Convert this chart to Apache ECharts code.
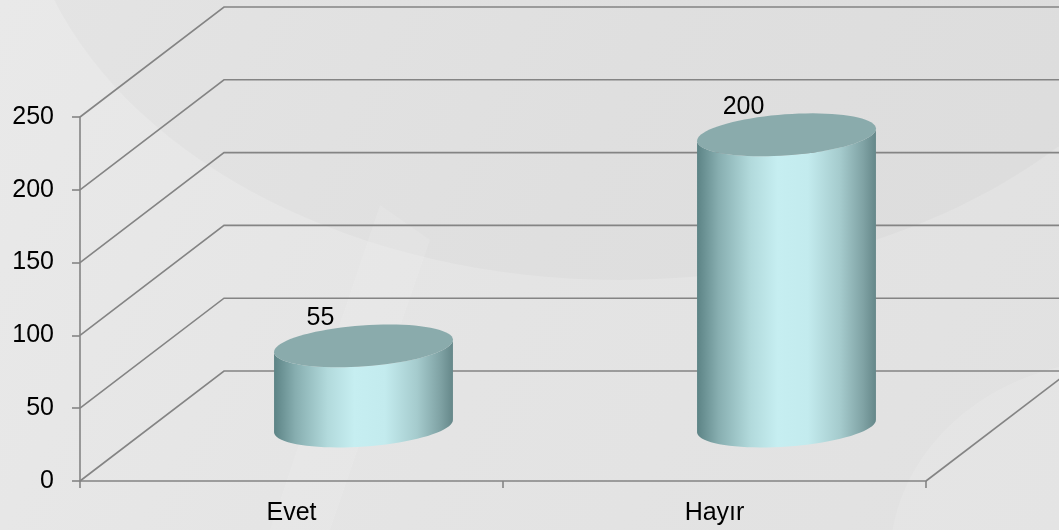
<!DOCTYPE html>
<html>
<head>
<meta charset="utf-8">
<script src="https://cdn.jsdelivr.net/npm/echarts@6/dist/echarts.min.js"></script>
<style>
  html, body { margin: 0; padding: 0; }
  #chart { width: 1059px; height: 530px; }
</style>
</head>
<body>
<div id="chart"></div>
<script>
const categories = ['Evet', 'Hayır'];
const values = [55, 200];
const yTicks = [0, 50, 100, 150, 200, 250];

// 3d depth offset of the back wall
const DX = 144;
const DY = -110;
const FONT = 'Liberation Sans, Arial, sans-serif';

let myChart = echarts.init(document.getElementById('chart'));

function ellipsePts(cx, cy, rx, ry, th, t0, t1, n) {
  const pts = [];
  const c = Math.cos(th), s = Math.sin(th);
  for (let i = 0; i <= n; i++) {
    const t = t0 + (t1 - t0) * i / n;
    const ex = rx * Math.cos(t), ey = ry * Math.sin(t);
    pts.push([cx + ex * c - ey * s, cy + ex * s + ey * c]);
  }
  return pts;
}

function renderGrid(params, api) {
  const cs = params.coordSys;
  const v = api.value(1);
  const y = api.coord([0, v])[1];
  const x0 = cs.x, x1 = cs.x + cs.width;
  const style = { stroke: '#848484', lineWidth: 1.6, fill: null };
  const children = [{
    type: 'polyline',
    shape: { points: [[x0, y], [x0 + DX, y + DY], [x1 + DX + 30, y + DY]] },
    style: style
  }];
  if (v === 0) {
    children.push({
      type: 'line',
      shape: { x1: x1, y1: y, x2: x1 + DX, y2: y + DY },
      style: style
    });
  }
  return { type: 'group', children: children };
}

function renderCylinder(params, api) {
  const idx = api.value(0);
  const val = api.value(1);
  const top = api.coord([idx, val]);
  const base = api.coord([idx, 0]);
  const bw = api.size([1, 0])[0];
  const cx = top[0] + DX / 2;
  const ty = top[1] + DY / 2;
  const by = base[1] + DY / 2;
  const rx = bw * 0.212, ry = 20.5, th = -0.072;

  const body = ellipsePts(cx, by, rx, ry, th, 0, Math.PI, 40)
    .concat(ellipsePts(cx, ty, rx, ry, th, Math.PI, 0, 40));
  const cap = ellipsePts(cx, ty, rx, ry, th, 0, Math.PI * 2, 80);

  return {
    type: 'group',
    children: [{
      type: 'polygon',
      shape: { points: body },
      style: {
        fill: new echarts.graphic.LinearGradient(0, 0, 1, 0, [
          { offset: 0, color: '#5c8385' },
          { offset: 0.12, color: '#87aeb0' },
          { offset: 0.3, color: '#b2dadc' },
          { offset: 0.45, color: '#c6eef1' },
          { offset: 0.62, color: '#c3ebee' },
          { offset: 0.8, color: '#a5cbcd' },
          { offset: 0.93, color: '#7fa2a4' },
          { offset: 1, color: '#658789' }
        ])
      }
    }, {
      type: 'polygon',
      shape: { points: cap },
      style: { fill: '#8aabac' }
    }, {
      type: 'text',
      x: cx - 43,
      y: ty - 28,
      style: {
        text: String(val),
        font: '25px ' + FONT,
        fill: '#000',
        align: 'center',
        verticalAlign: 'middle',
        textAlign: 'center',
        textVerticalAlign: 'middle'
      }
    }]
  };
}

let option = {
  backgroundColor: new echarts.graphic.LinearGradient(0, 0, 1, 1, [
    { offset: 0, color: '#e9e9e9' },
    { offset: 0.5, color: '#e4e4e4' },
    { offset: 1, color: '#e1e1e1' }
  ]),
  animation: false,
  graphic: [
    {
      type: 'ellipse', z: -10, silent: true,
      shape: { cx: 620, cy: -140, rx: 600, ry: 420 },
      style: { fill: 'rgba(0,0,0,0.018)' }
    },
    {
      type: 'ellipse', z: -10, silent: true,
      shape: { cx: 1120, cy: 560, rx: 230, ry: 200 },
      style: { fill: 'rgba(255,255,255,0.12)' }
    },
    {
      type: 'polygon', z: -10, silent: true,
      shape: { points: [[380, 205], [430, 240], [330, 530], [270, 530]] },
      style: { fill: 'rgba(255,255,255,0.1)' }
    }
  ],
  grid: {
    left: 80,
    right: 133,
    top: 117,
    bottom: 49,
    containLabel: false,
    outerBoundsMode: 'none'
  },
  xAxis: {
    type: 'category',
    data: categories,
    boundaryGap: true,
    axisLine: { show: true, lineStyle: { color: '#848484', width: 1.6 } },
    axisTick: { show: true, length: 7, lineStyle: { color: '#848484', width: 1.6 } },
    axisLabel: { color: '#000', fontSize: 25, fontFamily: FONT, margin: 20 },
    splitLine: { show: false }
  },
  yAxis: {
    type: 'value',
    min: 0,
    max: 250,
    interval: 50,
    axisLine: { show: true, lineStyle: { color: '#848484', width: 1.6 } },
    axisTick: { show: true, length: 8, lineStyle: { color: '#848484', width: 1.6 } },
    axisLabel: { color: '#000', fontSize: 25, fontFamily: FONT, margin: 26 },
    splitLine: { show: false }
  },
  series: [
    {
      type: 'custom',
      name: 'grid',
      clip: false,
      silent: true,
      z: 1,
      renderItem: renderGrid,
      data: yTicks.map(function (v) { return [0, v]; })
    },
    {
      type: 'custom',
      name: 'values',
      clip: false,
      z: 2,
      renderItem: renderCylinder,
      data: values.map(function (v, i) { return [i, v]; })
    }
  ]
};

myChart.setOption(option);
</script>
</body>
</html>
